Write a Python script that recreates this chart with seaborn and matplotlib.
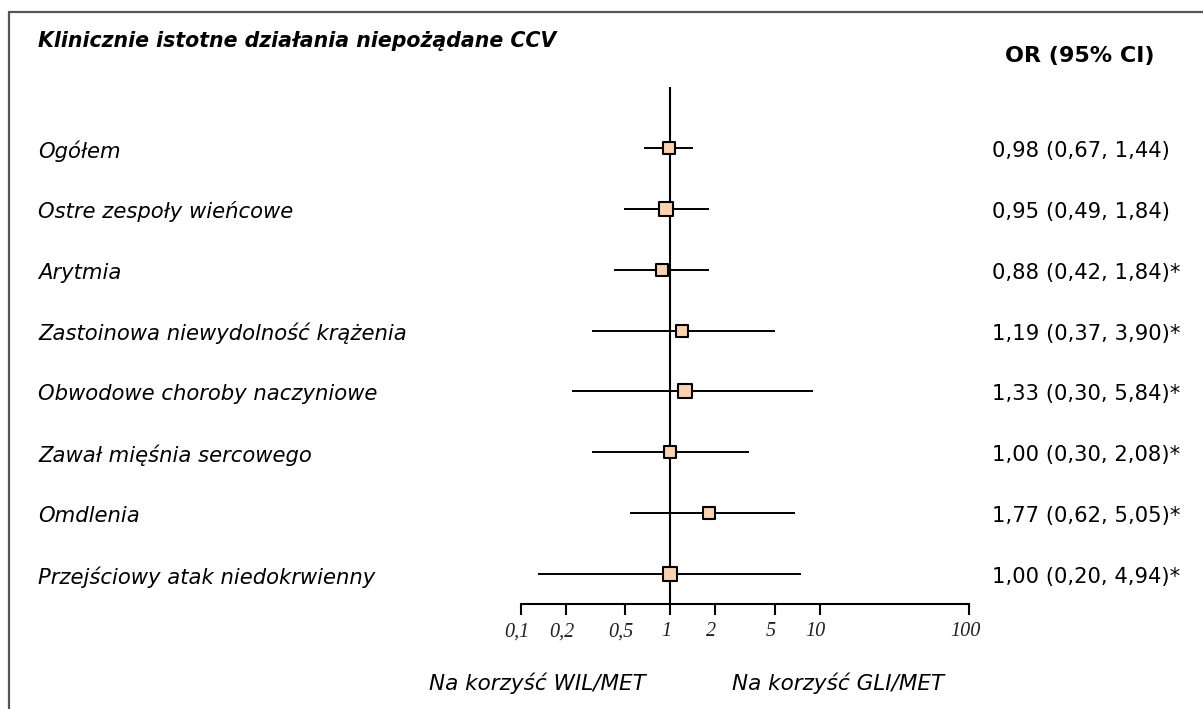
import numpy as np
import pandas as pd
import seaborn as sns
import matplotlib
matplotlib.use("Agg")
import matplotlib.pyplot as plt
from matplotlib import transforms
from matplotlib.lines import Line2D

# ---------------- data ----------------
categories = [
    "Ogółem",
    "Ostre zespoły wieńcowe",
    "Arytmia",
    "Zastoinowa niewydolność krążenia",
    "Obwodowe choroby naczyniowe",
    "Zawał mięśnia sercowego",
    "Omdlenia",
    "Przejściowy atak niedokrwienny",
]
or_point = [0.98, 0.94, 0.88, 1.20, 1.26, 1.00, 1.81, 1.00]
ci_low = [0.67, 0.49, 0.42, 0.30, 0.22, 0.30, 0.54, 0.13]
ci_high = [1.43, 1.83, 1.83, 5.00, 9.10, 3.36, 6.90, 7.50]
marker_weight = ["small", "large", "small", "small", "large", "small", "small", "large"]
or_text = [
    "0,98 (0,67, 1,44)",
    "0,95 (0,49, 1,84)",
    "0,88 (0,42, 1,84)*",
    "1,19 (0,37, 3,90)*",
    "1,33 (0,30, 5,84)*",
    "1,00 (0,30, 2,08)*",
    "1,77 (0,62, 5,05)*",
    "1,00 (0,20, 4,94)*",
]
tick_values = [0.1, 0.2, 0.5, 1, 2, 5, 10, 100]
tick_labels = ["0,1", "0,2", "0,5", "1", "2", "5", "10", "100"]
title_text = "Klinicznie istotne działania niepożądane CCV"
col_header = "OR (95% CI)"
favours_left = "Na korzyść WIL/MET"
favours_right = "Na korzyść GLI/MET"

df = pd.DataFrame({
    "cat": categories,
    "row": np.arange(1, len(categories) + 1),
    "or": or_point,
    "lo": ci_low,
    "hi": ci_high,
    "w": marker_weight,
})

# ---------------- figure ----------------
sns.set_theme(style="white")
plt.rcParams["font.family"] = ["DejaVu Sans"]

W, H = 1203, 709
fig = plt.figure(figsize=(W / 100, H / 100), dpi=100)
fig.patch.set_facecolor("white")

def fx(px):
    return px / W

def fy(py):
    return 1 - py / H

ax_left, ax_right = 520.7, 969.0
ax_top, ax_bottom = 87.3, 604.3
ax = fig.add_axes([fx(ax_left), fy(ax_bottom), fx(ax_right - ax_left), (ax_bottom - ax_top) / H])
ax.set_facecolor("none")

ax.set_xscale("log")
ax.set_xlim(0.1, 100)
ax.set_ylim(8.5, 0)

# reference line at OR = 1
ax.axvline(1, color="black", lw=1.5, zorder=2)

# confidence intervals
ax.hlines(df["row"], df["lo"], df["hi"], color="black", lw=1.4, zorder=1)

# point estimates
sns.scatterplot(
    data=df, x="or", y="row", size="w", sizes={"small": 76, "large": 104},
    marker="s", color="#FDD3AE", edgecolor="black", linewidth=1.5,
    legend=False, ax=ax, zorder=3,
)

ax.set_xlabel("")
ax.set_ylabel("")
ax.set_yticks([])
for s in ["top", "right", "left"]:
    ax.spines[s].set_visible(False)
ax.spines["bottom"].set_linewidth(1.5)
ax.spines["bottom"].set_color("black")
ax.set_xticks(tick_values)
ax.set_xticklabels(tick_labels)
ax.xaxis.set_minor_locator(matplotlib.ticker.NullLocator())
ax.tick_params(axis="x", which="major", direction="out", length=8, width=1.5,
               color="black", pad=5, bottom=True)
shift = transforms.ScaledTranslation(-4 / 100, 0, fig.dpi_scale_trans)
for lbl in ax.get_xticklabels():
    lbl.set_fontfamily("Liberation Serif")
    lbl.set_fontstyle("italic")
    lbl.set_fontsize(14.5)
    lbl.set_color("#222222")
    lbl.set_transform(lbl.get_transform() + shift)

# row labels and OR text
blend = transforms.blended_transform_factory(fig.transFigure, ax.transData)
for _, r in df.iterrows():
    fig.text(fx(38), r["row"] + 0.05, r["cat"], transform=blend, ha="left", va="center",
             fontsize=15.2, fontstyle="italic", color="black")
for i, t in enumerate(or_text):
    fig.text(fx(992), df["row"].iloc[i] + 0.05, t, transform=blend, ha="left", va="center",
             fontsize=15.2, color="black")

# header texts
fig.text(fx(38), fy(41), title_text, ha="left", va="center", fontsize=14.8,
         fontweight="bold", fontstyle="italic", color="black")
fig.text(fx(1080), fy(56), col_header, ha="center", va="center", fontsize=16,
         fontweight="bold", color="black")

# favours labels
fig.text(fx(537), fy(683), favours_left, ha="center", va="center", fontsize=15.5,
         fontstyle="italic", color="black")
fig.text(fx(838), fy(683), favours_right, ha="center", va="center", fontsize=15.5,
         fontstyle="italic", color="black")

# outer frame (left and top edges visible)
fig.add_artist(Line2D([fx(8.5), fx(8.5)], [fy(12), fy(720)], color="#555555", lw=1.6))
fig.add_artist(Line2D([fx(8.5), fx(1210)], [fy(12), fy(12)], color="#555555", lw=1.6))

fig.savefig("out.png", dpi=100)
